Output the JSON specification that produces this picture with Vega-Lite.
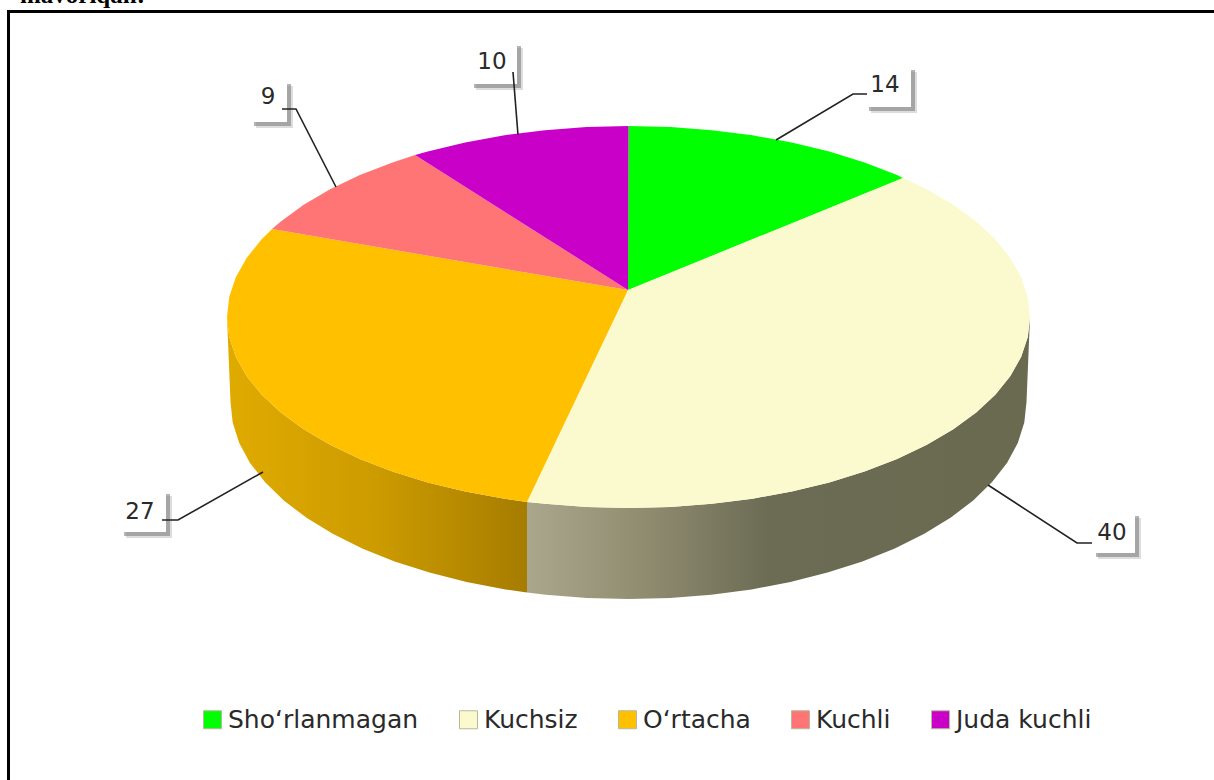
{
"$schema":"https://vega.github.io/schema/vega-lite/v6.json",
"width":1214,"height":780,"padding":0,"autosize":{"type":"none"},"background":"white",
"config":{"view":{"stroke":null}},
"datasets":{
"slices":[
{"s":"Sho‘rlanmagan","i":0,"x":628,"y":290},{"s":"Sho‘rlanmagan","i":1,"x":628.5,"y":126},{"s":"Sho‘rlanmagan","i":2,"x":670.5,"y":127},{"s":"Sho‘rlanmagan","i":3,"x":712,"y":130.2},{"s":"Sho‘rlanmagan","i":4,"x":752.5,"y":135.3},{"s":"Sho‘rlanmagan","i":5,"x":791.8,"y":142.5},{"s":"Sho‘rlanmagan","i":6,"x":829.3,"y":151.6},{"s":"Sho‘rlanmagan","i":7,"x":864.5,"y":162.5},{"s":"Sho‘rlanmagan","i":8,"x":897.1,"y":175.1},{"s":"Sho‘rlanmagan","i":9,"x":903,"y":178},
{"s":"Kuchsiz","i":0,"x":628,"y":290},{"s":"Kuchsiz","i":1,"x":903,"y":178},{"s":"Kuchsiz","i":2,"x":926.9,"y":189.2},{"s":"Kuchsiz","i":3,"x":953.3,"y":204.7},{"s":"Kuchsiz","i":4,"x":976.2,"y":221.5},{"s":"Kuchsiz","i":5,"x":995.3,"y":239.3},{"s":"Kuchsiz","i":6,"x":1010.4,"y":258},{"s":"Kuchsiz","i":7,"x":1021.2,"y":277.3},{"s":"Kuchsiz","i":8,"x":1027.8,"y":297},{"s":"Kuchsiz","i":9,"x":1030,"y":317},{"s":"Kuchsiz","i":10,"x":1027.8,"y":337},{"s":"Kuchsiz","i":11,"x":1021.2,"y":356.7},{"s":"Kuchsiz","i":12,"x":1010.4,"y":376},{"s":"Kuchsiz","i":13,"x":995.3,"y":394.7},{"s":"Kuchsiz","i":14,"x":976.2,"y":412.5},{"s":"Kuchsiz","i":15,"x":953.3,"y":429.3},{"s":"Kuchsiz","i":16,"x":926.9,"y":444.8},{"s":"Kuchsiz","i":17,"x":897.1,"y":458.9},{"s":"Kuchsiz","i":18,"x":864.5,"y":471.5},{"s":"Kuchsiz","i":19,"x":829.3,"y":482.4},{"s":"Kuchsiz","i":20,"x":791.8,"y":491.5},{"s":"Kuchsiz","i":21,"x":752.5,"y":498.7},{"s":"Kuchsiz","i":22,"x":712,"y":503.8},{"s":"Kuchsiz","i":23,"x":670.5,"y":507},{"s":"Kuchsiz","i":24,"x":628.5,"y":508},{"s":"Kuchsiz","i":25,"x":586.5,"y":507},{"s":"Kuchsiz","i":26,"x":545,"y":503.8},{"s":"Kuchsiz","i":27,"x":527,"y":502},
{"s":"O‘rtacha","i":0,"x":628,"y":290},{"s":"O‘rtacha","i":1,"x":527,"y":502},{"s":"O‘rtacha","i":2,"x":504.5,"y":498.7},{"s":"O‘rtacha","i":3,"x":465.2,"y":491.5},{"s":"O‘rtacha","i":4,"x":427.7,"y":482.4},{"s":"O‘rtacha","i":5,"x":392.5,"y":471.5},{"s":"O‘rtacha","i":6,"x":359.9,"y":458.9},{"s":"O‘rtacha","i":7,"x":330.1,"y":444.8},{"s":"O‘rtacha","i":8,"x":303.7,"y":429.3},{"s":"O‘rtacha","i":9,"x":280.8,"y":412.5},{"s":"O‘rtacha","i":10,"x":261.7,"y":394.7},{"s":"O‘rtacha","i":11,"x":246.6,"y":376},{"s":"O‘rtacha","i":12,"x":235.8,"y":356.7},{"s":"O‘rtacha","i":13,"x":229.2,"y":337},{"s":"O‘rtacha","i":14,"x":227,"y":317},{"s":"O‘rtacha","i":15,"x":229.2,"y":297},{"s":"O‘rtacha","i":16,"x":235.8,"y":277.3},{"s":"O‘rtacha","i":17,"x":246.6,"y":258},{"s":"O‘rtacha","i":18,"x":261.7,"y":239.3},{"s":"O‘rtacha","i":19,"x":272,"y":229},
{"s":"Kuchli","i":0,"x":628,"y":290},{"s":"Kuchli","i":1,"x":272,"y":229},{"s":"Kuchli","i":2,"x":280.8,"y":221.5},{"s":"Kuchli","i":3,"x":303.7,"y":204.7},{"s":"Kuchli","i":4,"x":330.1,"y":189.2},{"s":"Kuchli","i":5,"x":359.9,"y":175.1},{"s":"Kuchli","i":6,"x":392.5,"y":162.5},{"s":"Kuchli","i":7,"x":415,"y":155},
{"s":"Juda kuchli","i":0,"x":628,"y":290},{"s":"Juda kuchli","i":1,"x":415,"y":155},{"s":"Juda kuchli","i":2,"x":427.7,"y":151.6},{"s":"Juda kuchli","i":3,"x":465.2,"y":142.5},{"s":"Juda kuchli","i":4,"x":504.5,"y":135.3},{"s":"Juda kuchli","i":5,"x":545,"y":130.2},{"s":"Juda kuchli","i":6,"x":586.5,"y":127},{"s":"Juda kuchli","i":7,"x":628.5,"y":126}
],
"wallO":[
{"i":0,"x":527,"y":502},{"i":1,"x":504.5,"y":498.7},{"i":2,"x":465.2,"y":491.5},{"i":3,"x":427.7,"y":482.4},{"i":4,"x":392.5,"y":471.5},{"i":5,"x":359.9,"y":458.9},{"i":6,"x":330.1,"y":444.8},{"i":7,"x":303.7,"y":429.3},{"i":8,"x":280.8,"y":412.5},{"i":9,"x":261.7,"y":394.7},{"i":10,"x":246.6,"y":376},{"i":11,"x":235.8,"y":356.7},{"i":12,"x":229.2,"y":337},{"i":13,"x":227,"y":317},{"i":14,"x":230.5,"y":402},{"i":15,"x":232.7,"y":422.6},{"i":16,"x":239.2,"y":443},{"i":17,"x":250,"y":462.9},{"i":18,"x":264.9,"y":482.1},{"i":19,"x":283.8,"y":500.5},{"i":20,"x":306.5,"y":517.8},{"i":21,"x":332.7,"y":533.8},{"i":22,"x":362.2,"y":548.4},{"i":23,"x":394.6,"y":561.4},{"i":24,"x":429.5,"y":572.6},{"i":25,"x":466.6,"y":582},{"i":26,"x":505.5,"y":589.4},{"i":27,"x":527,"y":592.5}
],
"wallC":[
{"i":0,"x":527,"y":502},{"i":1,"x":545,"y":503.8},{"i":2,"x":586.5,"y":507},{"i":3,"x":628.5,"y":508},{"i":4,"x":670.5,"y":507},{"i":5,"x":712,"y":503.8},{"i":6,"x":752.5,"y":498.7},{"i":7,"x":791.8,"y":491.5},{"i":8,"x":829.3,"y":482.4},{"i":9,"x":864.5,"y":471.5},{"i":10,"x":897.1,"y":458.9},{"i":11,"x":926.9,"y":444.8},{"i":12,"x":953.3,"y":429.3},{"i":13,"x":976.2,"y":412.5},{"i":14,"x":995.3,"y":394.7},{"i":15,"x":1010.4,"y":376},{"i":16,"x":1021.2,"y":356.7},{"i":17,"x":1027.8,"y":337},{"i":18,"x":1030,"y":317},{"i":19,"x":1026.5,"y":402},{"i":20,"x":1024.3,"y":422.6},{"i":21,"x":1017.8,"y":443},{"i":22,"x":1007,"y":462.9},{"i":23,"x":992.1,"y":482.1},{"i":24,"x":973.2,"y":500.5},{"i":25,"x":950.5,"y":517.8},{"i":26,"x":924.3,"y":533.8},{"i":27,"x":894.8,"y":548.4},{"i":28,"x":862.4,"y":561.4},{"i":29,"x":827.5,"y":572.6},{"i":30,"x":790.4,"y":582},{"i":31,"x":751.5,"y":589.4},{"i":32,"x":711.2,"y":594.7},{"i":33,"x":670.1,"y":597.9},{"i":34,"x":628.5,"y":599},{"i":35,"x":586.9,"y":597.9},{"i":36,"x":545.8,"y":594.7},{"i":37,"x":527,"y":592.5}
],
"labels":[
{"value":14,"s":"Sho‘rlanmagan","tx":885,"ty":85,"x1":865,"x2":911,"y1":66,"y2":107},
{"value":40,"s":"Kuchsiz","tx":1112,"ty":533,"x1":1092,"x2":1135,"y1":512,"y2":553},
{"value":27,"s":"O‘rtacha","tx":140,"ty":512,"x1":120,"x2":166,"y1":490,"y2":532},
{"value":9,"s":"Kuchli","tx":268,"ty":97,"x1":250,"x2":287,"y1":80,"y2":122},
{"value":10,"s":"Juda kuchli","tx":492,"ty":62,"x1":470,"x2":517,"y1":42,"y2":84}
],
"leaders":[
{"s":"a","i":0,"x":776,"y":140},{"s":"a","i":1,"x":853,"y":94},{"s":"a","i":2,"x":867,"y":94},
{"s":"b","i":0,"x":988,"y":485},{"s":"b","i":1,"x":1077,"y":543},{"s":"b","i":2,"x":1092,"y":543},
{"s":"c","i":0,"x":263,"y":472},{"s":"c","i":1,"x":178,"y":520},{"s":"c","i":2,"x":162,"y":520},
{"s":"d","i":0,"x":336,"y":187},{"s":"d","i":1,"x":296,"y":109},{"s":"d","i":2,"x":282,"y":109},
{"s":"e","i":0,"x":518,"y":135},{"s":"e","i":1,"x":513,"y":72}
],
"frame":[{"i":0,"x":8.5,"y":780},{"i":1,"x":8.5,"y":11.5},{"i":2,"x":1214,"y":11.5}]
},
"data":{"name":"slices"},
"encoding":{
"x":{"field":"x","type":"quantitative","axis":null,"scale":{"domain":[0,1214],"nice":false,"zero":false}},
"y":{"field":"y","type":"quantitative","axis":null,"scale":{"domain":[780,0],"nice":false,"zero":false}}
},
"layer":[
{"data":{"name":"frame"},"mark":{"type":"line","stroke":"#000","strokeWidth":3},
 "encoding":{"order":{"field":"i","type":"quantitative"}}},
{"data":{"values":[{"t":"mavoriqan:","x":20,"y":3}]},
 "mark":{"type":"text","align":"left","baseline":"alphabetic","font":"Liberation Serif","fontWeight":"bold","fontSize":25,"fill":"#000"},
 "encoding":{"text":{"field":"t"}}},
{"data":{"name":"labels"},"mark":{"type":"rect","fill":"#777","opacity":0.25,"xOffset":6,"x2Offset":6,"yOffset":6,"y2Offset":6},
 "encoding":{"x":{"field":"x1","type":"quantitative"},"x2":{"field":"x2"},"y":{"field":"y1","type":"quantitative"},"y2":{"field":"y2"}}},
{"data":{"name":"labels"},"mark":{"type":"rect","fill":"#777","opacity":0.55,"xOffset":4,"x2Offset":4,"yOffset":4,"y2Offset":4},
 "encoding":{"x":{"field":"x1","type":"quantitative"},"x2":{"field":"x2"},"y":{"field":"y1","type":"quantitative"},"y2":{"field":"y2"}}},
{"data":{"name":"labels"},"mark":{"type":"rect","fill":"#fff"},
 "encoding":{"x":{"field":"x1","type":"quantitative"},"x2":{"field":"x2"},"y":{"field":"y1","type":"quantitative"},"y2":{"field":"y2"}}},
{"data":{"name":"wallO"},
 "mark":{"type":"line","strokeWidth":0,"fill":{"x1":0,"y1":0,"x2":1,"y2":0,"gradient":"linear","stops":[{"offset":0,"color":"#e0ab00"},{"offset":0.5,"color":"#cc9b00"},{"offset":1,"color":"#a67c00"}]}},
 "encoding":{"order":{"field":"i","type":"quantitative"}}},
{"data":{"name":"wallC"},
 "mark":{"type":"line","strokeWidth":0,"fill":{"x1":0,"y1":0,"x2":1,"y2":0,"gradient":"linear","stops":[{"offset":0,"color":"#aaa78c"},{"offset":0.25,"color":"#8d8a6e"},{"offset":0.48,"color":"#6c6b54"},{"offset":1,"color":"#6a6a50"}]}},
 "encoding":{"order":{"field":"i","type":"quantitative"}}},
{"mark":{"type":"line","strokeWidth":0},
 "encoding":{
  "order":{"field":"i","type":"quantitative"},
  "fill":{"field":"s","type":"nominal",
   "scale":{"domain":["Sho‘rlanmagan","Kuchsiz","O‘rtacha","Kuchli","Juda kuchli"],"range":["#00ff00","#fbfacf","#ffc000","#ff7575","#c800c8"]},
   "legend":{"title":null,"orient":"none","legendX":200,"legendY":707,"direction":"horizontal","symbolType":"square","symbolSize":324,"symbolStrokeColor":"#b8b89a","symbolStrokeWidth":1,"labelFont":"DejaVu Sans","labelFontSize":25,"labelColor":"#2a2a2a","labelOffset":3,"columnPadding":37,"labelLimit":300}}}},
{"data":{"name":"leaders"},"mark":{"type":"line","stroke":"#222","strokeWidth":1.6},
 "encoding":{"detail":{"field":"s"},"order":{"field":"i","type":"quantitative"}}},
{"data":{"name":"labels"},"mark":{"type":"text","font":"DejaVu Sans","fontSize":23,"fill":"#2a2a2a","baseline":"middle","align":"center"},
 "encoding":{"x":{"field":"tx","type":"quantitative"},"y":{"field":"ty","type":"quantitative"},"text":{"field":"value","type":"quantitative"}}}
]
}
